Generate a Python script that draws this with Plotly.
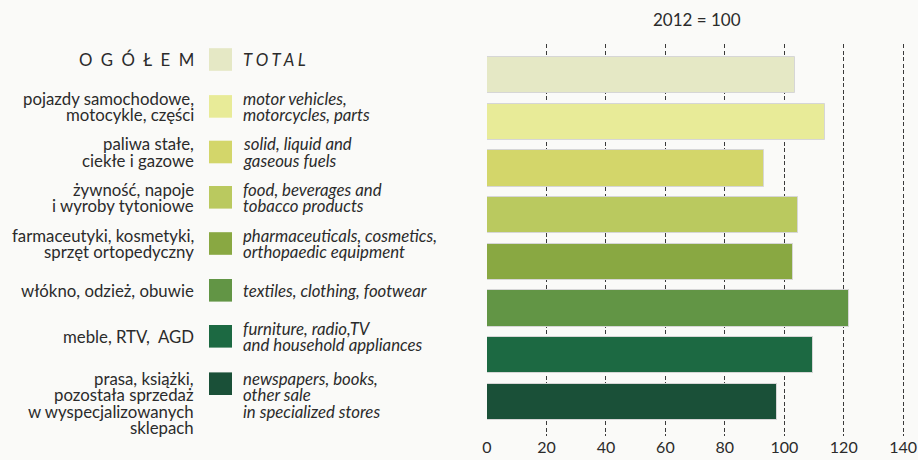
import plotly.graph_objects as go

W, H = 918, 460

labels_pl = [
    ["O\u2002G\u2002Ó\u2002Ł\u2002E\u2002M"],
    ["pojazdy samochodowe,", "motocykle, części"],
    ["paliwa stałe,", "ciekłe i gazowe"],
    ["żywność, napoje", "i wyroby tytoniowe"],
    ["farmaceutyki, kosmetyki,", "sprzęt ortopedyczny"],
    ["włókno, odzież, obuwie"],
    ["meble, RTV,  AGD"],
    ["prasa, książki,", "pozostała sprzedaż", "w wyspecjalizowanych", "sklepach"],
]
labels_en = [
    ["T\u00a0O\u00a0T\u00a0A\u00a0L"],
    ["motor vehicles,", "motorcycles, parts"],
    ["solid, liquid and", "gaseous fuels"],
    ["food, beverages and", "tobacco products"],
    ["pharmaceuticals, cosmetics,", "orthopaedic equipment"],
    ["textiles, clothing, footwear"],
    ["furniture, radio,TV", "and household appliances"],
    ["newspapers, books,", "other sale", "in specialized stores"],
]
values = [103.6, 113.7, 93.3, 104.7, 102.8, 121.9, 109.8, 97.6]
colors = ["#e5e8c5", "#e8eb98", "#d3d66a", "#bac95f", "#89a842", "#629545", "#1c6942", "#1a5038"]
x_ticks = [0, 20, 40, 60, 80, 100, 120, 140]
title_text = "2012 = 100"

FONT = "Lato"
TXT = "#2b2b2b"
BG = "#fafaf8"
FS = 16.8

def py(p):
    return 1 - p / H

def px(p):
    return p / W

idx = list(range(len(values)))

fig = go.Figure()
fig.add_trace(go.Bar(
    x=values, y=idx, orientation="h",
    marker=dict(color=colors, line=dict(color="#d6d6d6", width=1)),
    width=0.775, hoverinfo="x",
))

# row centres for legend swatches (pixels)
row_c = [59.5, 106.4, 152, 197.3, 243.5, 290.3, 336.3, 383.7]
LS = 16.5
shapes = []
ann = []
for i in idx:
    c = row_c[i]
    shapes.append(dict(type="rect", xref="paper", yref="paper",
                       x0=px(209), x1=px(232), y0=py(c - 11.3), y1=py(c + 11.3),
                       fillcolor=colors[i], line=dict(width=0), layer="above"))
    for lines, xa, xp, ital in ((labels_pl[i], "right", 196, False), (labels_en[i], "left", 241, True)):
        n = len(lines)
        if i == len(idx) - 1:
            start = 378
        else:
            start = c - (n - 1) * LS / 2
        for k, t in enumerate(lines):
            ann.append(dict(
                text=t, x=px(xp), y=py(start + k * LS), xref="paper", yref="paper",
                xanchor=xa, yanchor="middle", showarrow=False,
                font=dict(family=FONT, size=FS, color=TXT,
                          style="italic" if ital else "normal"),
            ))

ann.append(dict(text=title_text, x=px(697), y=py(20), xref="paper", yref="paper",
                xanchor="center", yanchor="middle", showarrow=False,
                font=dict(family=FONT, size=17, color=TXT)))

x0p, unit = 487, 2.973
xmax = 141.5
fig.update_layout(
    width=W, height=H, margin=dict(l=0, r=0, t=0, b=0, autoexpand=False),
    paper_bgcolor=BG, plot_bgcolor=BG, showlegend=False,
    shapes=shapes, annotations=ann, bargap=0,
    xaxis=dict(domain=[px(x0p), px(x0p + xmax * unit)], range=[0, xmax],
               tickvals=x_ticks, ticktext=[str(v) for v in x_ticks],
               showgrid=True, gridcolor="#3a3a3a", gridwidth=1, griddash="4px,2.5px",
               zeroline=False, showline=False, ticks="", ticklabeloverflow="allow",
               automargin=False,
               tickfont=dict(family=FONT, size=16, color=TXT)),
    yaxis=dict(domain=[py(436), py(44)], range=[7.73, -0.664], automargin=False,
               showticklabels=False, showgrid=False, zeroline=False, showline=False, ticks=""),
)

fig.write_html("out.html", config={"displayModeBar": False},
               post_script="document.body.style.margin='0';document.documentElement.style.overflow='hidden';document.body.style.overflow='hidden';")
